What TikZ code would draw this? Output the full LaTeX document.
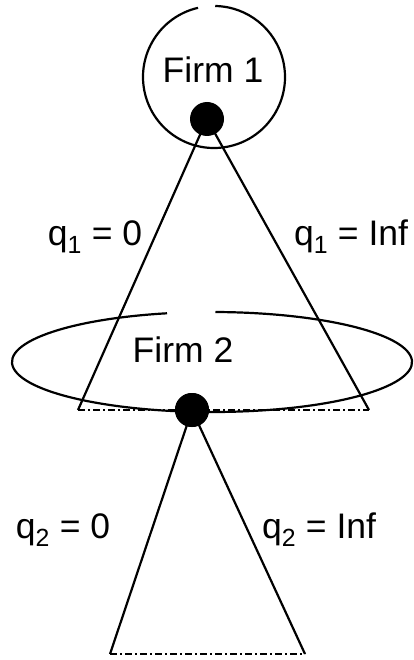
\documentclass[tikz,border=0pt]{standalone}
\usepackage{fontspec}
\setmainfont{Liberation Sans}
\usepackage{tikz}

\begin{document}
\begin{tikzpicture}[
    x=1pt, y=1pt,
    every node/.style={font=\fontsize{35.5}{40}\selectfont, inner sep=0pt},
    label/.style={anchor=base},
    dot/.style={
        circle,
        fill=black,
        minimum size=34pt
    },
    branch/.style={line width=2.2pt, black},
    cut/.style={line width=2.2pt, dash pattern=on 7pt off 3pt on 2pt off 3pt}
]
\useasboundingbox (0,0) rectangle (414,-660);

% first mover
\draw[branch] (214,-77) ++(103:71) arc (103:449:71);
\node[label] (firmA) at (213,-83) {Firm 1};

\coordinate (aL) at (78,-410);
\coordinate (aR) at (369,-410);
\coordinate (dotApos) at (207,-119);

\draw[branch] (dotApos) -- (aL);
\draw[branch] (dotApos) -- (aR);
\node[dot] (dotA) at (dotApos) {};

\node[label] (qAzero) at (95,-245) {q\textsubscript{1} = 0};
\node[label] (qAinf) at (351,-245) {q\textsubscript{1} = Inf};

% second mover
\draw[branch] (212,-362) ++(103:200 and 50) arc (103:449:200 and 50);
\node[label] (firmB) at (183,-362) {Firm 2};

\draw[cut] (aL) -- (aR);
\node[dot] (dotB) at (192,-410) {};

\coordinate (bL) at (110,-654);
\coordinate (bR) at (305,-654);

\draw[branch] (dotB.center) -- (bL);
\draw[branch] (dotB.center) -- (bR);
\node[dot] at (dotB) {};
\draw[cut] (bL) -- (bR);

\node[label] (qBzero) at (63,-538) {q\textsubscript{2} = 0};
\node[label] (qBinf) at (319,-538) {q\textsubscript{2} = Inf};

\end{tikzpicture}
\end{document}
